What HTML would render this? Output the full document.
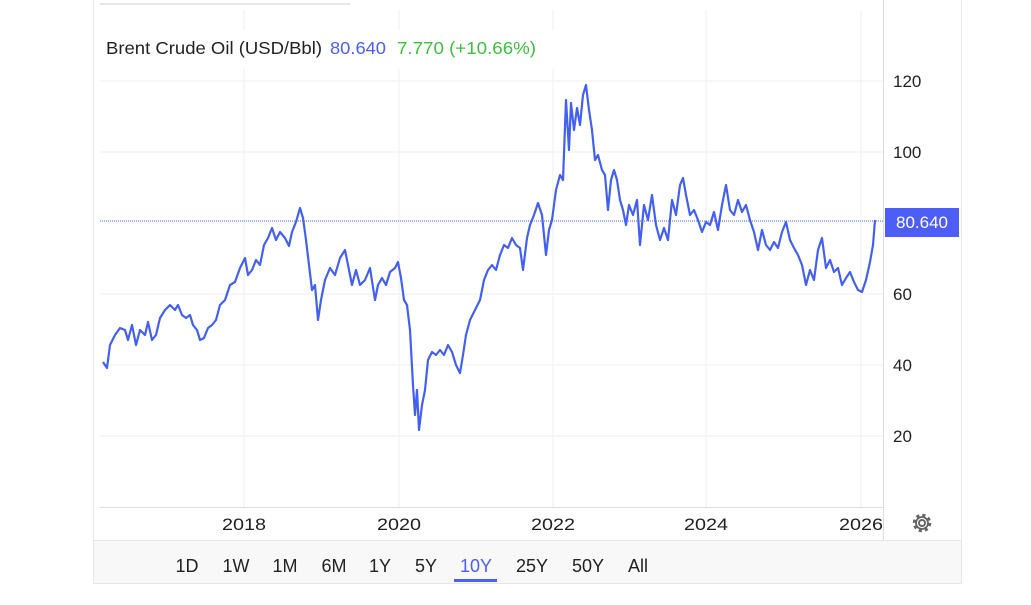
<!DOCTYPE html>
<html><head><style>
body{margin:0;width:1031px;height:600px;background:#fff;font-family:"Liberation Sans",sans-serif;overflow:hidden}
</style></head><body>
<svg width="1031" height="600" xmlns="http://www.w3.org/2000/svg" font-family="Liberation Sans, sans-serif">
<line x1="100" y1="4" x2="350" y2="4" stroke="#ddd" stroke-width="1.5"/>
<line x1="93.5" y1="0" x2="93.5" y2="584" stroke="#e6e6e6"/>
<line x1="961.5" y1="0" x2="961.5" y2="584" stroke="#e6e6e6"/>
<g stroke="#eef0f2" stroke-width="1">
<line x1="244" y1="10" x2="244" y2="507"/><line x1="399" y1="10" x2="399" y2="507"/>
<line x1="553" y1="10" x2="553" y2="507"/><line x1="706" y1="10" x2="706" y2="507"/>
<line x1="861" y1="10" x2="861" y2="507"/>
<line x1="100" y1="81" x2="883" y2="81"/><line x1="100" y1="152" x2="883" y2="152"/>
<line x1="100" y1="294" x2="883" y2="294"/><line x1="100" y1="365" x2="883" y2="365"/>
<line x1="100" y1="436" x2="883" y2="436"/>
</g>
<rect x="100" y="30" width="470" height="38" fill="#fff"/>
<line x1="100" y1="507.5" x2="883" y2="507.5" stroke="#ddd"/>
<line x1="883.5" y1="0" x2="883.5" y2="540" stroke="#ddd"/>
<g font-size="17.5">
<text x="106" y="54" fill="#222" textLength="216" lengthAdjust="spacingAndGlyphs">Brent Crude Oil (USD/Bbl)</text>
<text x="330" y="54" fill="#4c5ef5" textLength="56" lengthAdjust="spacingAndGlyphs">80.640</text>
<text x="397" y="54" fill="#3fbf3f" textLength="139" lengthAdjust="spacingAndGlyphs">7.770 (+10.66%)</text>
</g>
<g font-size="17" fill="#222">
<text x="893" y="87">120</text><text x="893" y="158">100</text><text x="893" y="300">60</text>
<text x="893" y="371">40</text><text x="893" y="442">20</text>
<text x="222" y="530" textLength="44" lengthAdjust="spacingAndGlyphs">2018</text>
<text x="377" y="530" textLength="44" lengthAdjust="spacingAndGlyphs">2020</text>
<text x="531" y="530" textLength="44" lengthAdjust="spacingAndGlyphs">2022</text>
<text x="684" y="530" textLength="44" lengthAdjust="spacingAndGlyphs">2024</text>
<text x="839" y="530" textLength="44" lengthAdjust="spacingAndGlyphs">2026</text>
</g>
<line x1="100" y1="221" x2="883" y2="221" stroke="#4460f0" stroke-width="1" stroke-dasharray="1,1"/>
<rect x="885" y="208" width="74" height="29" fill="#4c5ef5"/>
<text x="922" y="228" font-size="17" fill="#fff" text-anchor="middle">80.640</text>
<polyline fill="none" stroke="#4460f0" stroke-width="2.2" stroke-linejoin="round" points="103,362 107,368 110,345 115,335 120,328 125,330 128,340 132,325 136,345 140,330 145,335 148,322 152,340 156,335 160,318 165,310 170,305 175,310 178,305 182,315 186,318 190,315 193,325 197,330 200,340 204,338 208,328 212,325 216,320 220,305 225,300 230,285 235,282 240,268 245,258 248,275 252,270 256,260 260,265 264,245 268,238 272,228 276,240 280,232 285,238 289,246 292,232 296,222 300,208 303,218 306,240 309,265 312,290 315,285 318,320 321,300 325,280 330,268 335,275 340,258 345,250 348,265 352,285 356,270 360,285 365,280 370,268 375,300 378,285 382,278 386,285 390,272 395,268 398,262 401,278 404,300 407,305 410,330 413,385 415,415 417,390 419,430 422,405 425,390 428,360 432,352 436,355 440,350 444,355 448,345 452,352 456,365 460,373 463,355 466,335 470,320 475,310 480,300 484,280 488,270 492,265 496,270 500,255 504,245 508,248 512,238 516,245 520,248 523,270 527,238 530,225 534,215 538,203 542,215 546,255 549,230 552,220 556,190 560,175 563,180 566,100 569,150 571,103 574,130 577,108 580,125 583,95 586,85 589,110 592,130 595,160 598,155 602,170 605,175 608,210 611,180 614,170 617,180 620,200 623,210 626,225 629,205 633,215 637,200 640,245 644,205 648,220 652,195 656,225 660,240 664,228 668,240 672,200 676,215 680,185 683,178 686,195 690,215 694,210 698,220 702,232 706,222 710,225 714,212 718,230 722,205 726,185 730,210 734,215 738,200 742,212 746,205 750,220 754,232 758,250 762,230 766,245 770,250 774,242 778,248 782,232 786,222 790,240 794,248 798,255 802,265 806,285 810,270 814,280 818,250 822,238 826,268 830,260 834,272 838,268 842,285 846,278 850,272 854,282 858,290 862,292 866,280 870,262 873,245 875,220"/>
<g transform="translate(922,523)" fill="none" stroke="#666">
<circle r="3" stroke-width="2"/><circle r="7.5" stroke-width="3.5" stroke-dasharray="3,2.9"/><circle r="6" stroke-width="1.8"/>
</g>
<rect x="93.5" y="540.5" width="868" height="43" fill="#f8f8f8" stroke="#e6e6e6"/>
<g font-size="18" fill="#222" text-anchor="middle">
<text x="187" y="572">1D</text><text x="236" y="572">1W</text><text x="285" y="572">1M</text>
<text x="334" y="572">6M</text><text x="380" y="572">1Y</text><text x="426" y="572">5Y</text>
<text x="476" y="572" fill="#4c5ef5">10Y</text><text x="532" y="572">25Y</text>
<text x="588" y="572">50Y</text><text x="638" y="572">All</text>
</g>
<rect x="454" y="579" width="43" height="3" fill="#4c5ef5"/>
</svg>
</body></html>
